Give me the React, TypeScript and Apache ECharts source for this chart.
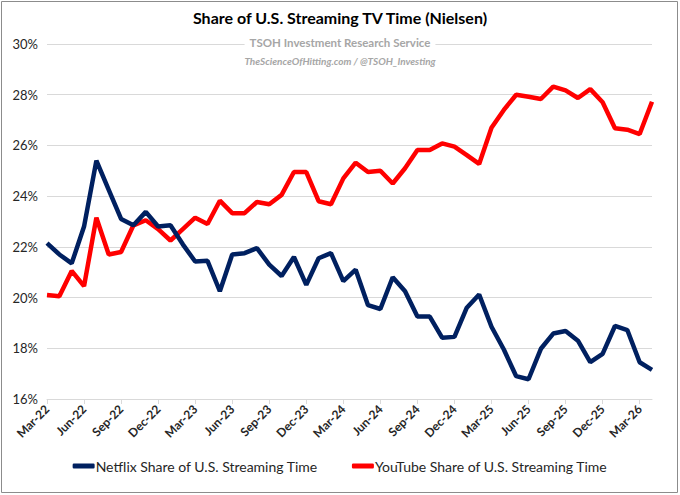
import React, { useEffect, useRef } from "react";
import * as echarts from "echarts";

const months = [
  "Mar-22", "Apr-22", "May-22", "Jun-22", "Jul-22", "Aug-22", "Sep-22", "Oct-22", "Nov-22", "Dec-22",
  "Jan-23", "Feb-23", "Mar-23", "Apr-23", "May-23", "Jun-23", "Jul-23", "Aug-23", "Sep-23", "Oct-23", "Nov-23", "Dec-23",
  "Jan-24", "Feb-24", "Mar-24", "Apr-24", "May-24", "Jun-24", "Jul-24", "Aug-24", "Sep-24", "Oct-24", "Nov-24", "Dec-24",
  "Jan-25", "Feb-25", "Mar-25", "Apr-25", "May-25", "Jun-25", "Jul-25", "Aug-25", "Sep-25", "Oct-25", "Nov-25", "Dec-25",
  "Jan-26", "Feb-26", "Mar-26", "Apr-26",
];

const netflixShare = [
  22.15, 21.7, 21.35, 22.8, 25.4, 24.25, 23.1, 22.85, 23.38, 22.8,
  22.85, 22.1, 21.42, 21.45, 20.25, 21.7, 21.75, 21.95, 21.3, 20.85, 21.6, 20.5,
  21.55, 21.75, 20.65, 21.1, 19.7, 19.55, 20.8, 20.25, 19.25, 19.25, 18.42, 18.45,
  19.6, 20.12, 18.85, 17.95, 16.9, 16.78, 17.98, 18.58, 18.68, 18.3, 17.45, 17.78,
  18.88, 18.72, 17.45, 17.15,
];

const youtubeShare = [
  20.1, 20.05, 21.05, 20.45, 23.15, 21.7, 21.8, 22.85, 23.05, 22.7,
  22.25, 22.7, 23.15, 22.9, 23.82, 23.33, 23.33, 23.77, 23.68, 24.05, 24.95, 24.95,
  23.8, 23.68, 24.7, 25.32, 24.95, 25.0, 24.5, 25.1, 25.82, 25.82, 26.08, 25.95,
  25.62, 25.27, 26.7, 27.4, 28.0, 27.92, 27.83, 28.32, 28.17, 27.87, 28.22, 27.7,
  26.68, 26.62, 26.45, 27.72,
];

const yMin = 16;
const yMax = 30;
const yStep = 2;

const seriesNames = [
  "Netflix Share of U.S. Streaming Time",
  "YouTube Share of U.S. Streaming Time",
];
const seriesColors = ["#002060", "#FF0000"];

const FONT = "Lato, 'Noto Sans', sans-serif";

export default function App() {
  const ref = useRef<HTMLDivElement>(null);

  useEffect(() => {
    if (!ref.current) return;
    const chart = echarts.init(ref.current, undefined, { renderer: "svg" });
    chart.setOption({
      animation: false,
      backgroundColor: "#ffffff",
      title: [
        {
          text: "Share of U.S. Streaming TV Time (Nielsen)",
          left: "center",
          top: 9,
          padding: 0,
          textStyle: { fontFamily: FONT, fontSize: 16, fontWeight: "bold", color: "#000000" },
        },
        {
          text: "TSOH Investment Research Service",
          left: "center",
          top: 35,
          padding: [1, 5],
          backgroundColor: "#ffffff",
          textStyle: { fontFamily: FONT, fontSize: 11.5, fontWeight: "bold", color: "#a6a6a6" },
        },
        {
          text: "TheScienceOfHitting.com / @TSOH_Investing",
          left: "center",
          top: 56,
          padding: 0,
          textStyle: { fontFamily: FONT, fontSize: 10, fontStyle: "italic", fontWeight: "bold", color: "#a6a6a6" },
        },
      ],
      graphic: [
        {
          type: "rect",
          shape: { x: 1.5, y: 1.5, width: 676, height: 491 },
          style: { fill: "none", stroke: "#8c8c8c", lineWidth: 1 },
          silent: true,
          z: -1,
        },
      ],
      legend: {
        bottom: 17,
        left: "center",
        itemGap: 34,
        itemWidth: 22,
        itemHeight: 5,
        icon: "roundRect",
        textStyle: { fontFamily: FONT, fontSize: 14, color: "#262626", padding: [0, 0, 0, -4] },
        data: seriesNames,
      },
      grid: { left: 47, right: 28, top: 44, bottom: 96, containLabel: false },
      xAxis: {
        type: "category",
        data: months,
        boundaryGap: false,
        axisLine: { lineStyle: { color: "#d9d9d9", width: 1 } },
        axisTick: { show: true, interval: 2, length: 5, lineStyle: { color: "#d9d9d9" } },
        axisLabel: {
          interval: 2,
          rotate: 45,
          margin: 8,
          fontFamily: FONT,
          fontSize: 12,
          fontWeight: "bold",
          color: "#262626",
        },
        splitLine: { show: false },
      },
      yAxis: {
        type: "value",
        min: yMin,
        max: yMax,
        interval: yStep,
        axisLine: { show: false },
        axisTick: { show: false },
        axisLabel: {
          formatter: (v: number) => `${v}%`,
          fontFamily: FONT,
          fontSize: 13,
          color: "#262626",
          margin: 9,
        },
        splitLine: { lineStyle: { color: "#d9d9d9", width: 1 } },
      },
      series: [
        {
          name: seriesNames[0],
          type: "line",
          data: netflixShare,
          showSymbol: false,
          symbol: "none",
          lineStyle: { color: seriesColors[0], width: 4.5 },
          itemStyle: { color: seriesColors[0] },
          z: 3,
        },
        {
          name: seriesNames[1],
          type: "line",
          data: youtubeShare,
          showSymbol: false,
          symbol: "none",
          lineStyle: { color: seriesColors[1], width: 4.5 },
          itemStyle: { color: seriesColors[1] },
          z: 2,
        },
      ],
    });
    return () => chart.dispose();
  }, []);

  return (
    <div
      ref={ref}
      style={{ position: "fixed", left: 0, top: 0, width: 680, height: 495 }}
    />
  );
}
